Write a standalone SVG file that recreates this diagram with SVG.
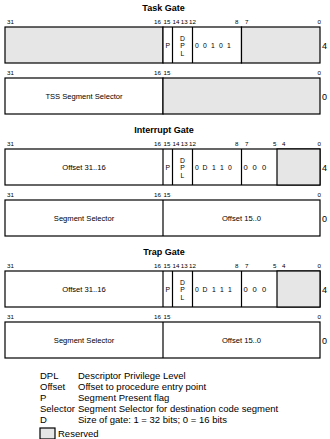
<svg xmlns="http://www.w3.org/2000/svg" width="330" height="439" viewBox="0 0 330 439">
  <style>
    text { font-family: "Liberation Sans", Arial, sans-serif; fill: #000; }
    .title { font-size: 9px; font-weight: bold; text-anchor: middle; }
    .bit { font-size: 6.2px; }
    .bitr { font-size: 6.2px; text-anchor: end; }
    .fld { font-size: 7.6px; text-anchor: middle; }
    .sm { font-size: 6.8px; text-anchor: middle; }
    .row { font-size: 9px; }
    .leg { font-size: 9.5px; }
    .box { fill: #fff; stroke: #000; stroke-width: 1.2; }
    .res { fill: #e6e6e6; stroke: #000; stroke-width: 1.2; }
    .div { stroke: #000; stroke-width: 1.2; }
  </style>

  <!-- Task Gate -->
  <g id="task-gate" transform="translate(0,27)">
    <text class="title" x="163.5" y="-16">Task Gate</text>
    <text class="bit" x="7" y="-3.5">31</text>
    <text class="bitr" x="161" y="-3.5">16</text>
    <text class="bit" x="163.5" y="-3.5">15</text>
    <text class="bit" x="172.5" y="-3.5">14</text>
    <text class="bit" x="180.8" y="-3.5">13</text>
    <text class="bit" x="189" y="-3.5">12</text>
    <text class="bit" x="235" y="-3.5">8</text>
    <text class="bit" x="245" y="-3.5">7</text>
    <text class="bitr" x="321" y="-3.5">0</text>
    <rect class="res" x="5" y="0" width="158" height="36"/>
    <rect class="box" x="163" y="0" width="78.5" height="36"/>
    <rect class="res" x="241.5" y="0" width="78.5" height="36"/>
    <line class="div" x1="172.5" y1="0" x2="172.5" y2="36"/>
    <line class="div" x1="192.5" y1="0" x2="192.5" y2="36"/>
    <text class="sm" x="167.8" y="21">P</text>
    <text class="sm" x="182.5" y="13.5">D</text>
    <text class="sm" x="182.5" y="21">P</text>
    <text class="sm" x="182.5" y="28.5">L</text>
    <text class="sm" x="197" y="21">0</text>
    <text class="sm" x="205" y="21">0</text>
    <text class="sm" x="213" y="21">1</text>
    <text class="sm" x="221" y="21">0</text>
    <text class="sm" x="229" y="21">1</text>
    <text class="row" x="322" y="21.5">4</text>

    <text class="bit" x="7" y="47.5">31</text>
    <text class="bitr" x="161" y="47.5">16</text>
    <text class="bit" x="163.5" y="47.5">15</text>
    <text class="bitr" x="321" y="47.5">0</text>
    <rect class="box" x="5" y="51" width="158" height="36"/>
    <rect class="res" x="163" y="51" width="157" height="36"/>
    <text class="fld" x="84" y="72">TSS Segment Selector</text>
    <text class="row" x="322" y="72.5">0</text>
  </g>

  <!-- Interrupt Gate -->
  <g id="interrupt-gate" transform="translate(0,149)">
    <text class="title" x="164" y="-16">Interrupt Gate</text>
    <text class="bit" x="7" y="-3.5">31</text>
    <text class="bitr" x="161" y="-3.5">16</text>
    <text class="bit" x="163.5" y="-3.5">15</text>
    <text class="bit" x="172.5" y="-3.5">14</text>
    <text class="bit" x="180.8" y="-3.5">13</text>
    <text class="bit" x="189" y="-3.5">12</text>
    <text class="bit" x="235" y="-3.5">8</text>
    <text class="bit" x="245" y="-3.5">7</text>
    <text class="bit" x="273" y="-3.5">5</text>
    <text class="bit" x="282" y="-3.5">4</text>
    <text class="bitr" x="321" y="-3.5">0</text>
    <rect class="box" x="5" y="0" width="315" height="36"/>
    <rect class="res" x="277" y="0" width="43" height="36"/>
    <line class="div" x1="163" y1="0" x2="163" y2="36"/>
    <line class="div" x1="172.5" y1="0" x2="172.5" y2="36"/>
    <line class="div" x1="192.5" y1="0" x2="192.5" y2="36"/>
    <line class="div" x1="241.5" y1="0" x2="241.5" y2="36"/>
    <text class="fld" x="84" y="21">Offset 31..16</text>
    <text class="sm" x="167.8" y="21">P</text>
    <text class="sm" x="182.5" y="13.5">D</text>
    <text class="sm" x="182.5" y="21">P</text>
    <text class="sm" x="182.5" y="28.5">L</text>
    <text class="sm" x="197" y="21">0</text>
    <text class="sm" x="205" y="21">D</text>
    <text class="sm" x="214" y="21">1</text>
    <text class="sm" x="222" y="21">1</text>
    <text class="sm" x="230" y="21">0</text>
    <text class="fld" x="245.5" y="21">0</text>
    <text class="fld" x="254.5" y="21">0</text>
    <text class="fld" x="264" y="21">0</text>
    <text class="row" x="322" y="21.5">4</text>

    <text class="bit" x="7" y="47.5">31</text>
    <text class="bitr" x="161" y="47.5">16</text>
    <text class="bit" x="163.5" y="47.5">15</text>
    <text class="bitr" x="321" y="47.5">0</text>
    <rect class="box" x="5" y="51" width="315" height="36"/>
    <line class="div" x1="163" y1="51" x2="163" y2="87"/>
    <text class="fld" x="84" y="72">Segment Selector</text>
    <text class="fld" x="241.5" y="72">Offset 15..0</text>
    <text class="row" x="322" y="72.5">0</text>
  </g>

  <!-- Trap Gate -->
  <g id="trap-gate" transform="translate(0,271)">
    <text class="title" x="164" y="-16">Trap Gate</text>
    <text class="bit" x="7" y="-3.5">31</text>
    <text class="bitr" x="161" y="-3.5">16</text>
    <text class="bit" x="163.5" y="-3.5">15</text>
    <text class="bit" x="172.5" y="-3.5">14</text>
    <text class="bit" x="180.8" y="-3.5">13</text>
    <text class="bit" x="189" y="-3.5">12</text>
    <text class="bit" x="235" y="-3.5">8</text>
    <text class="bit" x="245" y="-3.5">7</text>
    <text class="bit" x="273" y="-3.5">5</text>
    <text class="bit" x="282" y="-3.5">4</text>
    <text class="bitr" x="321" y="-3.5">0</text>
    <rect class="box" x="5" y="0" width="315" height="36"/>
    <rect class="res" x="277" y="0" width="43" height="36"/>
    <line class="div" x1="163" y1="0" x2="163" y2="36"/>
    <line class="div" x1="172.5" y1="0" x2="172.5" y2="36"/>
    <line class="div" x1="192.5" y1="0" x2="192.5" y2="36"/>
    <line class="div" x1="241.5" y1="0" x2="241.5" y2="36"/>
    <text class="fld" x="84" y="21">Offset 31..16</text>
    <text class="sm" x="167.8" y="21">P</text>
    <text class="sm" x="182.5" y="13.5">D</text>
    <text class="sm" x="182.5" y="21">P</text>
    <text class="sm" x="182.5" y="28.5">L</text>
    <text class="sm" x="197" y="21">0</text>
    <text class="sm" x="205" y="21">D</text>
    <text class="sm" x="214" y="21">1</text>
    <text class="sm" x="222" y="21">1</text>
    <text class="sm" x="230" y="21">1</text>
    <text class="fld" x="245.5" y="21">0</text>
    <text class="fld" x="254.5" y="21">0</text>
    <text class="fld" x="264" y="21">0</text>
    <text class="row" x="322" y="21.5">4</text>

    <text class="bit" x="7" y="47.5">31</text>
    <text class="bitr" x="161" y="47.5">16</text>
    <text class="bit" x="163.5" y="47.5">15</text>
    <text class="bitr" x="321" y="47.5">0</text>
    <rect class="box" x="5" y="51" width="315" height="36"/>
    <line class="div" x1="163" y1="51" x2="163" y2="87"/>
    <text class="fld" x="84" y="72">Segment Selector</text>
    <text class="fld" x="241.5" y="72">Offset 15..0</text>
    <text class="row" x="322" y="72.5">0</text>
  </g>

  <!-- Legend -->
  <g id="legend">
    <text class="leg" x="40" y="379">DPL</text>
    <text class="leg" x="78" y="379">Descriptor Privilege Level</text>
    <text class="leg" x="40" y="390">Offset</text>
    <text class="leg" x="78" y="390">Offset to procedure entry point</text>
    <text class="leg" x="40" y="401">P</text>
    <text class="leg" x="78" y="401">Segment Present flag</text>
    <text class="leg" x="40" y="412">Selector</text>
    <text class="leg" x="78" y="412">Segment Selector for destination code segment</text>
    <text class="leg" x="40" y="423">D</text>
    <text class="leg" x="78" y="423">Size of gate: 1 = 32 bits; 0 = 16 bits</text>
    <rect class="res" x="40" y="428" width="15" height="11"/>
    <text class="leg" x="58" y="437">Reserved</text>
  </g>
</svg>
